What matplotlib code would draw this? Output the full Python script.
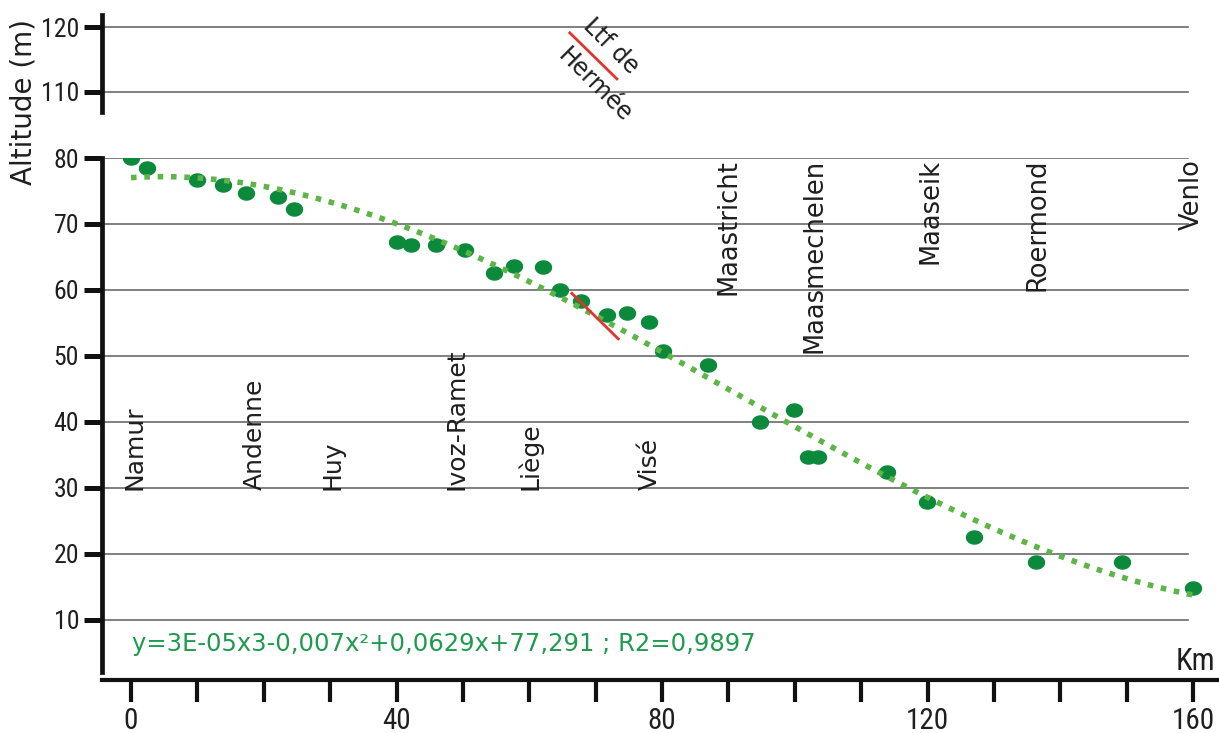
import numpy as np
import matplotlib
matplotlib.use("Agg")
import matplotlib.pyplot as plt
from matplotlib import font_manager as fm

# altitude of the Meuse along its course (km from Namur, metres)
km = [0, 2.4, 9.9, 13.9, 17.3, 22.1, 24.6, 40.1, 42.2, 46.0, 50.3, 54.7, 57.7,
      62.0, 64.6, 67.8, 71.7, 74.7, 78.0, 80.1, 86.9, 94.8, 99.9, 102.0, 103.5,
      113.9, 119.9, 127.0, 136.3, 149.3, 160.0]
alt = [80.0, 78.5, 76.7, 75.9, 74.7, 74.1, 72.3, 67.3, 66.8, 66.8, 66.1, 62.6, 63.6,
       63.5, 60.0, 58.3, 56.2, 56.5, 55.2, 50.8, 48.6, 40.0, 41.8, 34.7, 34.7,
       32.4, 27.9, 22.6, 18.8, 18.8, 14.8]

towns_low = ["Namur", "Andenne", "Huy", "Ivoz-Ramet", "Liège", "Visé"]
towns_low_km = [0.6, 18.7, 30.4, 49.1, 60.1, 78.2]
towns_high = ["Maastricht", "Maasmechelen", "Maaseik", "Roermond", "Venlo"]
towns_high_km = [90.0, 103.0, 120.4, 136.5, 159.8]

# Ltf de Hermée (channel crossing)
hermee_km = [66.4, 73.4]
hermee_alt = [59.5, 52.6]
hermee_top_km = [66.1, 73.2]
hermee_top_alt = [119.1, 112.0]

equation = "y=3E-05x3-0,007x²+0,0629x+77,291 ; R2=0,9897"

# pick a condensed face for the numbers if one is installed
fonts = [(f.name, f.stretch) for f in fm.fontManager.ttflist]
narrow = fm.FontProperties(family="DejaVu Sans")
for fam in ["Liberation Sans Narrow", "Roboto Condensed", "Open Sans Condensed"]:
    if any(n == fam for n, s in fonts):
        narrow = fm.FontProperties(family=fam)
        break
else:
    if any(n == "DejaVu Sans" and s in ("condensed", "semi-condensed") for n, s in fonts):
        narrow = fm.FontProperties(family="DejaVu Sans", stretch="condensed")

txt_col = "#1f1f1f"
grid_col = "#6a6a6a"

fig = plt.figure(figsize=(12.19, 7.33), dpi=100)
W, H = 1219.0, 733.0

# main (lower) axes: 10-80 m
ax = fig.add_axes([102 / W, 1 - 672 / H, (W - 102) / W, (672 - 158) / H])
# upper axes for the 110-120 m part of the broken scale
axt = fig.add_axes([102 / W, 1 - 112 / H, (W - 102) / W, (112 - 15) / H])

xlo, xhi = -4.37, 163.9
ax.set_xlim(xlo, xhi)
ax.set_ylim(2.12, 80)
axt.set_xlim(xlo, xhi)
axt.set_ylim(106.9, 121.85)

grid_end = 0.972
for a, levels in ((ax, range(10, 90, 10)), (axt, [110, 120])):
    for lv in levels:
        a.axhline(lv, xmin=0, xmax=grid_end, color=grid_col, lw=1.2, zorder=1)
    a.set_yticks(list(levels))
    a.tick_params(axis="y", direction="out", length=13, width=3.6, pad=3.5,
                  labelcolor=txt_col, color="#111")
    for lab in a.get_yticklabels():
        lab.set_fontproperties(narrow)
        lab.set_fontsize(18.5)
    a.spines["left"].set_linewidth(3.4)
    a.spines["left"].set_color("#111")
    a.spines["top"].set_visible(False)
    a.spines["right"].set_visible(False)
    a.patch.set_alpha(0)

axt.spines["bottom"].set_visible(False)
axt.set_xticks([])

ax.spines["bottom"].set_position(("outward", 6))
ax.spines["bottom"].set_linewidth(3)
ax.spines["bottom"].set_color("#111")
ax.set_xticks([0, 40, 80, 120, 160])
ax.set_xticks(np.arange(0, 161, 10), minor=True)
ax.tick_params(axis="x", which="both", direction="out", length=16, width=3,
               color="#111")
ax.tick_params(axis="x", which="major", pad=3, labelcolor=txt_col)
for lab in ax.get_xticklabels():
    lab.set_fontproperties(narrow)
    lab.set_fontsize(21)

# points (slightly oval markers)
t = np.linspace(0, 2 * np.pi, 40)
oval = np.column_stack([np.cos(t), 0.82 * np.sin(t)])
ax.plot(km, alt, linestyle="none", marker=oval, markersize=11.5,
        color="#0c8a3b", zorder=3)

# polynomial trendline (order 3) fitted to the points
coef = np.polyfit(km, alt, 3)
xs = np.linspace(0, 160, 400)
ax.plot(xs, np.polyval(coef, xs), color="#5cb546", lw=4, dashes=(1, 1.4),
        zorder=4)

# Hermée canal marks
ax.plot(hermee_km, hermee_alt, color="#e0342e", lw=2, zorder=5)
axt.plot(hermee_top_km, hermee_top_alt, color="#e0342e", lw=2, zorder=5)
axt.text(72.3, 117.1, "Ltf de", rotation=-45, ha="center", va="center",
         fontsize=17, color=txt_col)
axt.text(69.8, 111.1, "Hermée", rotation=-45, ha="center", va="center",
         fontsize=17, color=txt_col)

for name, x in zip(towns_low, towns_low_km):
    ax.text(x, 29.7, name, rotation=90, ha="center", va="bottom",
            fontsize=18, color=txt_col, zorder=6)
for name, x in zip(towns_high, towns_high_km):
    ax.text(x, 79.85, name, rotation=90, ha="center", va="top",
            fontsize=18.5, color=txt_col, zorder=6)

ax.text(0.2, 6.3, equation, ha="left", va="center", fontsize=17.5,
        color="#1f9a4e")
fig.text(1195 / W, 1 - 661 / H, "Km", ha="center", va="center", fontsize=22,
         fontproperties=narrow, color=txt_col)
fig.text(24 / W, 1 - 102 / H, "Altitude (m)", rotation=90, ha="center",
         va="center", fontsize=20, color=txt_col)

fig.savefig("out.png", dpi=100)
